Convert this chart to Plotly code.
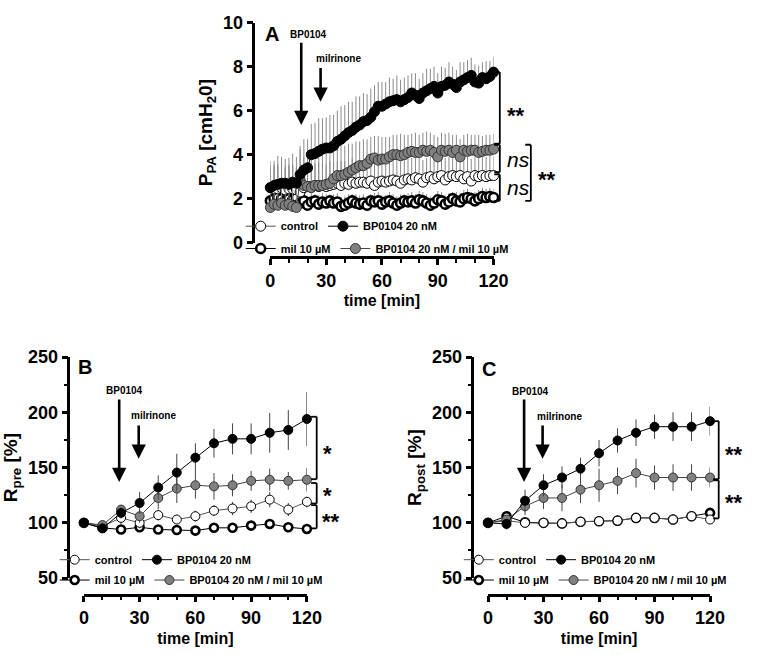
import plotly.graph_objects as go

FONT = "Liberation Sans, Arial, sans-serif"

# ---- panel A: P_PA [cmH2O], sampled every 2 min ----
t_a = list(range(0, 121, 2))
a_control = [2.5,2.45,2.45,2.5,2.4,2.45,2.45,2.4,2.3,2.5,2.55,2.55,2.6,2.55,2.6,2.55,2.6,2.65,2.7,2.6,
             2.7,2.65,2.75,2.7,2.75,2.75,2.7,2.8,2.6,2.75,2.8,2.75,2.8,2.85,2.8,2.7,2.85,2.9,2.85,2.95,
             2.9,2.75,2.95,3.0,2.9,3.0,3.05,2.85,3.0,3.05,3.0,3.05,2.9,3.0,2.8,3.05,3.0,3.05,3.0,3.05,3.05]
a_control_err = [1.0,1.1,1.0,1.0,1.1,1.0,1.1,1.0,1.0,1.1,1.1,1.0,1.0,1.1,1.0,1.0,1.1,1.0,1.0,1.1,
                 1.0,1.0,1.1,1.0,1.0,1.0,1.1,1.0,1.0,1.0,1.0,1.1,1.0,1.0,1.0,1.0,1.0,1.0,1.0,0.9,
                 1.0,1.0,0.9,0.9,1.0,0.9,0.9,1.0,0.9,0.9,0.9,0.9,0.9,0.9,1.0,0.9,0.9,0.9,0.9,0.9,0.9]
a_bp = [2.5,2.6,2.65,2.7,2.7,2.65,2.75,2.7,3.1,3.3,3.4,4.0,4.05,4.15,4.25,4.3,4.3,4.4,4.6,4.7,
        4.85,5.0,5.1,5.25,5.35,5.5,5.55,5.7,5.95,6.2,6.2,6.3,6.4,6.45,6.5,6.4,6.5,6.6,6.8,6.7,
        6.55,6.8,6.9,7.0,7.1,6.8,7.1,7.15,7.3,7.2,7.05,7.3,7.4,7.5,7.6,7.3,7.25,7.5,7.45,7.55,7.75]
a_bp_err = [1.2,1.1,1.3,1.2,1.1,1.2,1.3,1.2,1.3,1.4,1.3,1.4,1.4,1.5,1.4,1.4,1.5,1.4,1.4,1.5,
            1.4,1.4,1.3,1.4,1.3,1.3,1.2,1.3,1.2,1.1,1.1,1.0,1.1,1.0,1.1,1.0,1.0,1.0,0.9,1.0,
            0.9,0.9,1.0,0.9,0.9,0.9,0.9,0.8,0.9,0.8,0.8,0.9,0.8,0.8,0.8,0.8,0.8,0.7,0.8,0.7,0.7]
a_mil = [1.9,2.0,2.05,2.0,1.9,2.0,1.95,2.05,1.8,1.9,1.7,1.85,1.9,1.75,1.85,1.8,1.9,1.8,1.85,1.65,
         1.7,1.8,1.9,1.8,1.75,1.8,1.7,1.9,1.85,1.9,1.75,1.85,1.9,1.8,1.7,1.8,1.9,1.85,1.9,1.8,
         1.95,1.9,1.8,1.7,1.8,1.95,1.9,1.75,1.85,2.0,1.9,1.85,2.0,2.05,2.0,1.9,2.0,2.1,2.05,2.1,2.05]
a_mil_err = [0.4,0.3,0.4,0.4,0.3,0.4,0.4,0.3,0.4,0.4,0.4,0.4,0.3,0.4,0.4,0.4,0.3,0.4,0.4,0.4,
             0.4,0.4,0.3,0.4,0.4,0.4,0.4,0.3,0.4,0.4,0.4,0.3,0.4,0.4,0.4,0.4,0.3,0.4,0.4,0.4,
             0.4,0.4,0.4,0.4,0.3,0.4,0.4,0.4,0.4,0.3,0.4,0.4,0.4,0.4,0.3,0.4,0.4,0.4,0.4,0.4,0.4]
a_mix = [1.6,1.75,1.7,1.8,1.7,1.75,1.65,1.6,2.85,2.6,2.55,2.5,2.6,2.6,2.6,2.65,2.7,2.9,3.05,3.05,
         3.1,3.2,3.3,3.4,3.5,3.5,3.6,3.8,3.85,3.75,3.8,3.8,3.9,4.0,4.0,3.95,4.0,4.1,4.15,4.1,
         4.1,4.2,4.15,4.2,4.1,3.9,4.2,4.15,4.2,4.1,4.2,3.9,4.2,4.15,4.2,4.2,4.1,4.15,4.2,4.2,4.25]
a_mix_err = [1.8,1.7,1.9,1.8,1.7,1.8,1.9,1.8,1.4,1.3,1.3,1.4,1.3,1.3,1.4,1.4,1.3,1.4,1.3,1.4,
             1.3,1.3,1.2,1.2,1.1,1.2,1.1,1.0,1.0,1.1,1.0,1.0,0.9,0.9,0.9,1.0,0.9,0.8,0.8,0.9,
             0.8,0.8,0.9,0.8,0.8,0.9,0.8,0.8,0.8,0.8,0.7,0.8,0.7,0.8,0.7,0.7,0.8,0.7,0.7,0.7,0.7]

# ---- panels B and C: R_pre / R_post [%], every 10 min ----
t_bc = [0, 10, 20, 30, 40, 50, 60, 70, 80, 90, 100, 110, 120]
b_control = [100, 97, 104.5, 100, 107, 103, 106, 111, 113, 115, 121, 112, 119]
b_control_err = [0, 3, 6, 5, 5, 4, 5, 5, 6, 6, 7, 6, 5]
b_bp = [100, 95, 109, 118, 132, 145.5, 159, 172, 176, 176, 181.5, 184, 194]
b_bp_err = [0, 3, 5, 10, 11, 17, 13, 13, 14, 14, 18, 18, 24.5]
b_mil = [100, 95.5, 94, 96, 94, 93.5, 93, 95.5, 95.5, 97.5, 99, 96, 94.5]
b_mil_err = [0, 2, 2, 2, 2, 2, 2, 2, 2, 2, 2, 2, 2]
b_mix = [100, 98, 112, 106, 122.5, 131, 134, 133, 134, 138, 139, 138, 139]
b_mix_err = [0, 3, 4, 6, 10, 13, 12, 12, 10, 9, 10, 8, 10.5]

c_control = [100, 102, 100, 100, 99.5, 101, 101.5, 102, 104.5, 104.5, 103, 106, 103]
c_control_err = [0, 3, 3, 3, 3, 3, 3, 3, 3, 3, 3, 3, 3]
c_bp = [100, 99, 120, 134, 141, 149, 163, 174.5, 181.5, 187, 187, 187, 192]
c_bp_err = [0, 5, 10, 10, 10, 10, 12, 11, 12, 11, 13, 13, 13]
c_mil = [100, 106, 100.5, 100, 99.5, 101, 101.5, 102, 104.5, 104.5, 103, 106, 109]
c_mil_err = [0, 4, 3, 3, 3, 4, 4, 4, 3, 4, 3, 3, 4]
c_mix = [100, 103, 115, 122.5, 122.5, 130, 134, 138, 145, 141, 141, 141, 141]
c_mix_err = [0, 4, 8, 10, 12, 12, 15, 12, 13, 11, 12, 12, 9]

names = ["control", "BP0104 20 nM", "mil 10 µM", "BP0104 20 nM / mil 10 µM"]


def add_panel(fig, t, series, xa, ya, leg_top, leg_bot, upward_only, bar_col, msize):
    # series: (control, ctrl_err, bp, bp_err, mil, mil_err, mix, mix_err)
    ctrl, ctrl_e, bp, bp_e, mil, mil_e, mix, mix_e = series
    styles = [
        # name, y, err, fill, outline, outline width, line colour, legend
        (names[2], mil, mil_e, "white", "black", 2.6, "black", leg_bot),
        (names[0], ctrl, ctrl_e, "white", "black", 1, "#555555", leg_top),
        (names[3], mix, mix_e, "#808080", "#333333", 1, "#444444", leg_bot),
        (names[1], bp, bp_e, "black", "black", 1, "black", leg_top),
    ]
    for name, y, e, fill, oc, ow, lc, leg in styles:
        err = dict(type="data", array=e, color=bar_col, thickness=1, width=0)
        if upward_only:
            err.update(symmetric=False, arrayminus=[0] * len(e))
        fig.add_trace(go.Scatter(
            x=t, y=y, name=name, mode="lines+markers", xaxis=xa, yaxis=ya, legend=leg,
            line=dict(color=lc, width=1),
            marker=dict(color=fill, size=msize if ow < 2 else msize - 1,
                        line=dict(color=oc, width=ow)),
            error_y=err, cliponaxis=False,
        ))


fig = go.Figure()
add_panel(fig, t_a, (a_control, a_control_err, a_bp, a_bp_err, a_mil, a_mil_err, a_mix, a_mix_err),
          "x", "y", "legend", "legend2", True, "#8a8a8a", 10)
add_panel(fig, t_bc, (b_control, b_control_err, b_bp, b_bp_err, b_mil, b_mil_err, b_mix, b_mix_err),
          "x2", "y2", "legend3", "legend4", False, "#444444", 9)
add_panel(fig, t_bc, (c_control, c_control_err, c_bp, c_bp_err, c_mil, c_mil_err, c_mix, c_mix_err),
          "x3", "y3", "legend5", "legend6", False, "#444444", 9)

W, H = 764, 655
bold = dict(family=FONT, size=18, color="black", weight="bold")


def xax(x0, x1, ypix):
    return dict(domain=[x0 / W, x1 / W], range=[0, 120], anchor="free", position=1 - ypix / H,
                showline=True, linewidth=2.5, linecolor="black", ticks="outside", ticklen=6,
                tickwidth=2.5, tickcolor="black", tickvals=[0, 30, 60, 90, 120],
                minor=dict(tickvals=[10, 20, 40, 50, 70, 80, 100, 110], ticks="outside",
                           ticklen=4, tickwidth=2, tickcolor="black"),
                tickfont=bold, showgrid=False, zeroline=False,
                title=dict(text="time [min]", font=dict(family=FONT, size=16, weight="bold"),
                           standoff=5))


def yax(y0, y1, xpix, rng, dtick, minor, title):
    return dict(domain=[1 - y1 / H, 1 - y0 / H], range=rng, anchor="free", position=xpix / W,
                showline=True, linewidth=2.5, linecolor="black", ticks="outside", ticklen=6,
                tickwidth=2.5, tickcolor="black", dtick=dtick, tick0=rng[0],
                minor=dict(dtick=minor, tick0=rng[0], ticks="outside", ticklen=4, tickwidth=2,
                           tickcolor="black") if minor else None,
                tickfont=bold, showgrid=False, zeroline=False,
                title=dict(text=title, font=dict(family=FONT, size=19, weight="bold"), standoff=4))


def leg(xpix, ypix):
    return dict(orientation="h", x=xpix / W, y=1 - ypix / H, xanchor="left", yanchor="middle",
                font=dict(family=FONT, size=11, color="black", weight="bold"),
                bgcolor="rgba(0,0,0,0)", itemwidth=30, itemclick=False,
                itemdoubleclick=False, tracegroupgap=0)


ann = []
shapes = []


def label(xr, yr, x, y, text, size=10, italic=False, anchor="center"):
    ann.append(dict(xref=xr, yref=yr, x=x, y=y, text=text, showarrow=False, xanchor=anchor,
                    font=dict(family=FONT, size=size, color="black",
                              weight="normal" if italic else "bold",
                              style="italic" if italic else "normal")))


def arrow(xr, yr, x, y_tip, y_start):
    ann.append(dict(xref=xr, yref=yr, axref=xr, ayref=yr, x=x, y=y_tip, ax=x, ay=y_start,
                    text="", showarrow=True, arrowhead=2, arrowsize=1.1, arrowwidth=2.6,
                    arrowcolor="black", standoff=0, startstandoff=0))


def bracket(xa, ya, xd, y0, y1, d=0.025):
    xr = xa + " domain"
    for (xs, ys, xe, ye) in [(xd, y0, xd, y1), (xd - d, y0, xd, y0), (xd - d, y1, xd, y1)]:
        shapes.append(dict(type="line", xref=xr, yref=ya, x0=xs, y0=ys, x1=xe, y1=ye,
                           line=dict(color="black", width=1.8)))


# panel A
label("x", "y", 1, 9.5, "A", size=20)
label("x", "y", 20.7, 9.47, "BP0104")
label("x", "y", 36.4, 8.37, "milrinone")
arrow("x", "y", 16.6, 5.35, 9.15)
arrow("x", "y", 27, 6.4, 8.0)
bracket("x", "y", 1.028, 7.75, 4.5)
bracket("x", "y", 1.028, 4.45, 3.2)
bracket("x", "y", 1.028, 3.1, 1.9)
bracket("x", "y", 1.167, 4.45, 1.9)
label("x domain", "y", 1.05, 5.8, "**", size=22, anchor="left")
label("x domain", "y", 1.05, 3.8, "ns", size=21, italic=True, anchor="left")
label("x domain", "y", 1.05, 2.5, "ns", size=21, italic=True, anchor="left")
label("x domain", "y", 1.19, 2.86, "**", size=22, anchor="left")

# panel B
label("x2", "y2", 0.5, 241, "B", size=20)
label("x2", "y2", 22, 220, "BP0104")
label("x2", "y2", 37.7, 197, "milrinone")
arrow("x2", "y2", 19, 137, 213)
arrow("x2", "y2", 29.5, 158, 189.5)
bracket("x2", "y2", 1.044, 196, 139.5)
bracket("x2", "y2", 1.044, 136, 117.5)
bracket("x2", "y2", 1.044, 116, 95)
label("x2 domain", "y2", 1.065, 163, "*", size=22, anchor="left")
label("x2 domain", "y2", 1.065, 125, "*", size=22, anchor="left")
label("x2 domain", "y2", 1.06, 101, "**", size=22, anchor="left")

# panel C
label("x3", "y3", 0.3, 239, "C", size=20)
label("x3", "y3", 23.2, 219, "BP0104")
label("x3", "y3", 38.4, 196.5, "milrinone")
arrow("x3", "y3", 19.5, 137, 213)
arrow("x3", "y3", 29.5, 158, 189.5)
bracket("x3", "y3", 1.039, 192, 139.5)
bracket("x3", "y3", 1.039, 138.5, 104)
label("x3 domain", "y3", 1.06, 162, "**", size=22, anchor="left")
label("x3 domain", "y3", 1.06, 118.5, "**", size=22, anchor="left")

fig.update_layout(
    width=W, height=H, margin=dict(l=0, r=0, t=0, b=0),
    paper_bgcolor="white", plot_bgcolor="white",
    font=dict(family=FONT, color="black"),
    xaxis=xax(272.5, 501.7, 255),
    yaxis=yax(13, 240, 255, [0, 10], 2, None, "P<sub>PA</sub> [cmH<sub>2</sub>0]"),
    xaxis2=xax(81, 310, 603),
    yaxis2=yax(358, 586, 65, [50, 250], 50, 25, "R<sub>pre</sub> [%]"),
    xaxis3=xax(496, 724, 603),
    yaxis3=yax(358, 586, 480, [50, 250], 50, 25, "R<sub>post</sub> [%]"),
    legend=leg(242, 223),
    legend2=leg(242, 246),
    legend3=leg(51, 567),
    legend4=leg(51, 588),
    legend5=leg(466, 567),
    legend6=leg(466, 588),
    annotations=ann, shapes=shapes,
)

# page body has a default 8px margin; drop it so the figure sits at the window origin
fig.write_html("out.html", config={"displayModeBar": False},
               post_script="document.body.style.margin='0';")
